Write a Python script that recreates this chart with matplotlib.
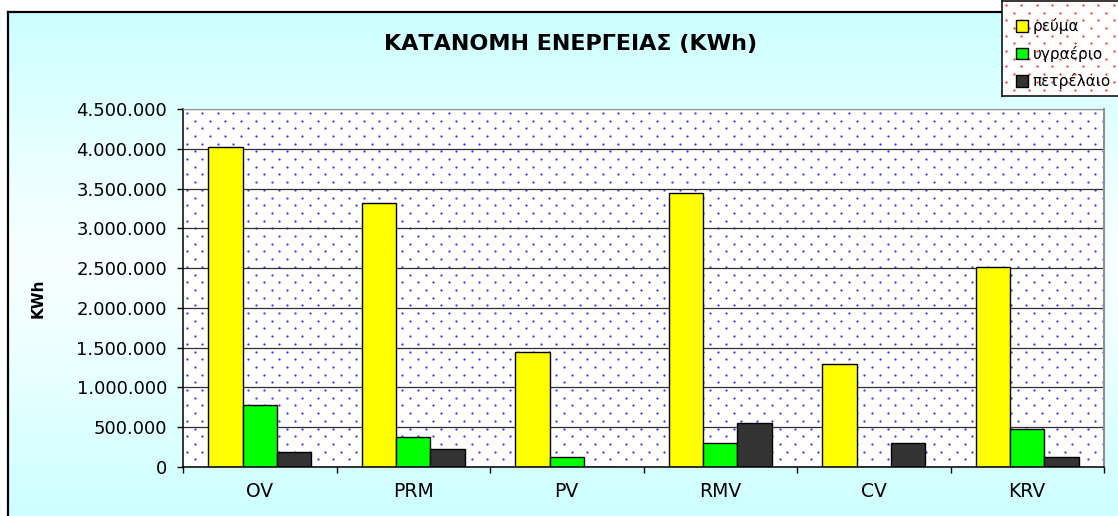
import matplotlib
matplotlib.use('Agg')
import matplotlib.pyplot as plt
import numpy as np
from matplotlib.ticker import FuncFormatter, FixedLocator

# the original text is wide (stretched Arial), DejaVu Sans comes closest
plt.rcParams['font.family'] = ['DejaVu Sans']

# ---------------------------------- DATA -----------------------------------------
categories = ['OV', 'PRM', 'PV', 'RMV', 'CV', 'KRV']
reuma = [4020000, 3320000, 1440000, 3450000, 1290000, 2520000]
ygraerio = [780000, 380000, 130000, 300000, 0, 480000]
petrelaio = [190000, 225000, 0, 550000, 300000, 130000]
series_names = ['ρεύμα', 'υγραέριο', 'πετρέλαιο']
title = 'ΚΑΤΑΝΟΜΗ ΕΝΕΡΓΕΙΑΣ (KWh)'
ylabel = 'KWh'
# ----------------------------------------------------------------------------------

W, H = 1118, 516
fig = plt.figure(figsize=(W / 100, H / 100), dpi=100, facecolor='white')


def px_rect(x0, y0, x1, y1):
    # pixel box (top-left origin) -> figure fraction rect
    return [x0 / W, 1 - y1 / H, (x1 - x0) / W, (y1 - y0) / H]


def dot_pattern(ax, w_px, h_px, color, step=15.4, size=2.6):
    row = step / 2
    xs, ys = [], []
    for i, y in enumerate(np.arange(row / 2, h_px, row)):
        off = 0 if i % 2 == 0 else step / 2
        x = np.arange(step / 4 + off, w_px, step)
        xs.extend(x)
        ys.extend([y] * len(x))
    ax.scatter(np.array(xs) / w_px, 1 - np.array(ys) / h_px, transform=ax.transAxes,
               s=size, color=color, linewidths=0, zorder=0.2, clip_on=True)


# background: cyan -> white -> cyan
bg = fig.add_axes(px_rect(8, 12, W + 2, H + 2), zorder=-5)
t = np.abs(np.linspace(-1, 1, 200)) ** 1.2
cyan = np.array([0.80, 1.0, 1.0])
grad = (1 - t)[:, None] * np.array([0.97, 1.0, 1.0]) + t[:, None] * cyan
bg.imshow(grad[:, None, :], aspect='auto', extent=[0, 1, 0, 1])
bg.set_xticks([])
bg.set_yticks([])
for s in ['right', 'bottom']:
    bg.spines[s].set_visible(False)
bg.spines['left'].set_linewidth(1.6)
bg.spines['top'].set_linewidth(1.6)

# main plot
ax = fig.add_axes(px_rect(183, 109, 1104, 467))
ax.set_facecolor('white')
dot_pattern(ax, 1104 - 183, 467 - 109, '#3434ff')

x = np.arange(len(categories))
bw = 0.2235
b1 = ax.bar(x - bw, reuma, bw, color='#ffff00', edgecolor='black', linewidth=1, zorder=2)
b2 = ax.bar(x, ygraerio, bw, color='#00ff00', edgecolor='black', linewidth=1, zorder=2)
b3 = ax.bar(x + bw, petrelaio, bw, color='#333333', edgecolor='black', linewidth=1, zorder=2)

ax.set_xlim(-0.5, len(categories) - 0.5)
ax.set_ylim(0, 4500000)
ax.set_yticks(np.arange(0, 4500001, 500000))
ax.yaxis.set_major_formatter(FuncFormatter(lambda v, p: f"{v:,.0f}".replace(',', '.')))
ax.grid(axis='y', color='#303030', linewidth=0.9)
ax.set_axisbelow(True)

ax.xaxis.set_major_locator(FixedLocator(np.arange(-0.5, len(categories), 1)))
ax.xaxis.set_major_formatter(FuncFormatter(lambda v, p: ''))
ax.set_xticks(x, minor=True)
ax.set_xticklabels(categories, minor=True, fontsize=13.5)
ax.tick_params(axis='x', which='minor', length=0, pad=11)
ax.tick_params(axis='x', which='major', length=4.5, width=1, direction='out')
ax.tick_params(axis='y', length=4.5, width=1, pad=7, labelsize=13)

ax.spines['left'].set_linewidth(1.1)
ax.spines['bottom'].set_linewidth(1.1)
ax.spines['top'].set_color('#909090')
ax.spines['right'].set_color('#909090')
ax.spines['right'].set_linewidth(1.5)

fig.text(571 / W, 1 - 44 / H, title, ha='center', va='center', fontsize=16, fontweight='bold')
fig.text(38 / W, 1 - 298 / H, ylabel, ha='center', va='center', rotation=90,
         fontsize=11, fontweight='bold')

# legend box with red dots
lg = fig.add_axes(px_rect(1002, 1, W + 30, 96), zorder=5)
lg.set_facecolor('white')
dot_pattern(lg, W + 30 - 1002, 95, '#ff3030')
lg.set_xticks([])
lg.set_yticks([])
for s in lg.spines.values():
    s.set_linewidth(1.1)
lg.legend([b1, b2, b3], series_names, loc='upper left', bbox_to_anchor=(0.02, 0.93),
          frameon=False, fontsize=11, handlelength=0.8, handleheight=0.8,
          handletextpad=0.3, labelspacing=0.75, borderaxespad=0.3)

fig.savefig('out.png', dpi=100)
